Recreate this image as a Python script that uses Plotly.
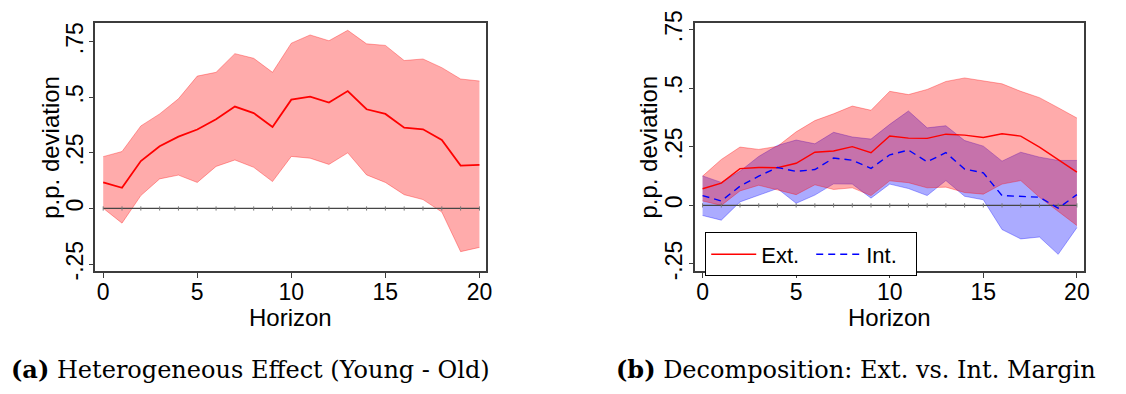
import plotly.graph_objects as go

W, H = 1126, 394

# ---- data -------------------------------------------------------------
horizon = list(range(21))

# (a) Heterogeneous effect (Young - Old)
het_est = [0.117, 0.093, 0.213, 0.280, 0.323, 0.355, 0.401, 0.458, 0.429, 0.366, 0.489,
           0.503, 0.476, 0.528, 0.446, 0.425, 0.363, 0.356, 0.308, 0.193, 0.196]
het_hi = [0.233, 0.256, 0.371, 0.425, 0.493, 0.595, 0.612, 0.696, 0.675, 0.612, 0.743,
          0.780, 0.754, 0.801, 0.740, 0.733, 0.665, 0.672, 0.633, 0.582, 0.573]
het_lo = [0.001, -0.066, 0.058, 0.133, 0.150, 0.117, 0.189, 0.218, 0.185, 0.121, 0.234,
          0.226, 0.198, 0.250, 0.151, 0.117, 0.062, 0.040, -0.016, -0.194, -0.175]

# (b) Extensive margin
ext_est = [0.071, 0.095, 0.157, 0.162, 0.161, 0.180, 0.227, 0.232, 0.251, 0.225, 0.296,
           0.287, 0.286, 0.304, 0.300, 0.290, 0.306, 0.296, 0.249, 0.196, 0.142]
ext_hi = [0.125, 0.196, 0.249, 0.239, 0.252, 0.314, 0.362, 0.391, 0.424, 0.406, 0.487,
          0.473, 0.495, 0.529, 0.544, 0.531, 0.519, 0.487, 0.460, 0.417, 0.373]
ext_lo = [0.019, 0.000, 0.062, 0.086, 0.066, 0.046, 0.088, 0.068, 0.075, 0.042, 0.105,
          0.097, 0.075, 0.078, 0.055, 0.048, 0.091, 0.106, 0.035, -0.025, -0.086]

# (b) Intensive margin
int_est = [0.042, 0.019, 0.082, 0.125, 0.162, 0.145, 0.153, 0.202, 0.193, 0.158, 0.216,
           0.236, 0.186, 0.225, 0.155, 0.139, 0.042, 0.040, 0.035, -0.012, 0.046]
int_hi = [0.126, 0.098, 0.146, 0.209, 0.256, 0.279, 0.263, 0.312, 0.292, 0.283, 0.346,
          0.403, 0.331, 0.340, 0.277, 0.253, 0.189, 0.227, 0.206, 0.192, 0.192]
int_lo = [-0.043, -0.063, 0.015, 0.044, 0.072, 0.009, 0.044, 0.092, 0.091, 0.031, 0.091,
          0.072, 0.042, 0.106, 0.039, 0.024, -0.103, -0.143, -0.135, -0.209, -0.095]

y_ticks = [-0.25, 0, 0.25, 0.5, 0.75]
y_tick_text = ["-.25", "0", ".25", ".5", ".75"]
x_ticks = [0, 5, 10, 15, 20]

x_title = "Horizon"
y_title = "p.p. deviation"
captions = [("(a)", "Heterogeneous Effect (Young - Old)"),
            ("(b)", "Decomposition: Ext. vs. Int. Margin")]

# ---- styling ----------------------------------------------------------
SANS = "Liberation Sans, Arial, sans-serif"
SERIF = "DejaVu Serif, serif"
RED = "rgb(255,0,0)"
BLUE = "rgb(0,0,255)"
RED_FILL = "rgba(255,0,0,0.33)"
BLUE_FILL = "rgba(0,0,255,0.33)"
FRAME = "rgb(60,60,60)"
ZERO = "rgb(70,70,70)"

fig = go.Figure()


def band(lo, hi, fill, xa, ya):
    fig.add_trace(go.Scatter(x=horizon, y=lo, mode="lines", line=dict(color=fill, width=1),
                             showlegend=False, hoverinfo="skip", xaxis=xa, yaxis=ya))
    fig.add_trace(go.Scatter(x=horizon, y=hi, mode="lines", line=dict(color=fill, width=1),
                             fill="tonexty", fillcolor=fill, showlegend=False,
                             hoverinfo="skip", xaxis=xa, yaxis=ya))


def zero_line(xa, ya):
    fig.add_trace(go.Scatter(x=horizon, y=[0] * len(horizon), mode="lines+markers",
                             line=dict(color=ZERO, width=1.3),
                             marker=dict(symbol="line-ns", size=3,
                                         line=dict(color="rgb(120,120,120)", width=1)),
                             showlegend=False, hoverinfo="skip", xaxis=xa, yaxis=ya))


# panel (a)
band(het_lo, het_hi, RED_FILL, "x", "y")
zero_line("x", "y")
fig.add_trace(go.Scatter(x=horizon, y=het_est, mode="lines", line=dict(color=RED, width=1.8),
                         showlegend=False, xaxis="x", yaxis="y"))

# panel (b)
band(int_lo, int_hi, BLUE_FILL, "x2", "y2")
band(ext_lo, ext_hi, RED_FILL, "x2", "y2")
zero_line("x2", "y2")
fig.add_trace(go.Scatter(x=horizon, y=ext_est, mode="lines", name="Ext.",
                         line=dict(color=RED, width=1.4), xaxis="x2", yaxis="y2"))
fig.add_trace(go.Scatter(x=horizon, y=int_est, mode="lines", name="Int.",
                         line=dict(color=BLUE, width=1.4, dash="7px,5px"),
                         xaxis="x2", yaxis="y2"))


def px_x(p):
    return p / W


def px_y(p):
    return 1 - p / H


axis_common = dict(showline=True, linecolor=FRAME, linewidth=1.5, mirror=True,
                   ticks="outside", ticklen=5, tickcolor=FRAME, tickwidth=1.2,
                   showgrid=False, zeroline=False, ticklabeloverflow="allow",
                   tickfont=dict(family=SANS, size=23, color="black"))
title_font = dict(family=SANS, size=24, color="black")

fig.update_layout(
    width=W, height=H, margin=dict(l=0, r=0, t=0, b=0),
    paper_bgcolor="white", plot_bgcolor="white",
    xaxis=dict(domain=[px_x(96), px_x(489)], range=[-0.41, 20.37], tickvals=x_ticks,
               ticklabelstandoff=-5, anchor="y", **axis_common),
    yaxis=dict(domain=[px_y(273), px_y(11)], range=[-0.28, 0.832], tickvals=y_ticks,
               ticktext=y_tick_text, tickangle=-90, ticklabelstandoff=-3,
               anchor="x", **axis_common),
    xaxis2=dict(domain=[px_x(699), px_x(1090)], range=[-0.39, 20.39], tickvals=x_ticks,
                ticklabelstandoff=-5, anchor="y2", **axis_common),
    yaxis2=dict(domain=[px_y(273), px_y(11)], range=[-0.279, 0.777], tickvals=y_ticks,
                ticktext=y_tick_text, tickangle=-90, ticklabelstandoff=-3,
                anchor="x2", **axis_common),
    legend=dict(x=px_x(709), y=px_y(279), xanchor="left", yanchor="bottom",
                orientation="h", traceorder="normal",
                bgcolor="white", bordercolor="black", borderwidth=1,
                font=dict(family=SANS, size=22, color="black"), itemwidth=45,
                entrywidth=45, entrywidthmode="pixels", tracegroupgap=0),
    showlegend=True,
)

# axis titles
for cx in (292, 894):
    fig.add_annotation(x=px_x(cx), y=px_y(322), xref="paper", yref="paper",
                       xanchor="center", yanchor="middle", showarrow=False,
                       text=x_title, font=title_font)
for cx in (50, 652):
    fig.add_annotation(x=px_x(cx), y=px_y(142), xref="paper", yref="paper",
                       xanchor="center", yanchor="middle", showarrow=False,
                       textangle=-90, text=y_title, font=title_font)

# sub-figure captions
for (tag, text), cx in zip(captions, [252, 861]):
    fig.add_annotation(x=px_x(cx), y=px_y(378), xref="paper", yref="paper",
                       xanchor="center", yanchor="middle", showarrow=False,
                       text=f"<b>{tag}</b> {text}",
                       font=dict(family=SERIF, size=24, color="black"))

fig.write_html("out.html")
